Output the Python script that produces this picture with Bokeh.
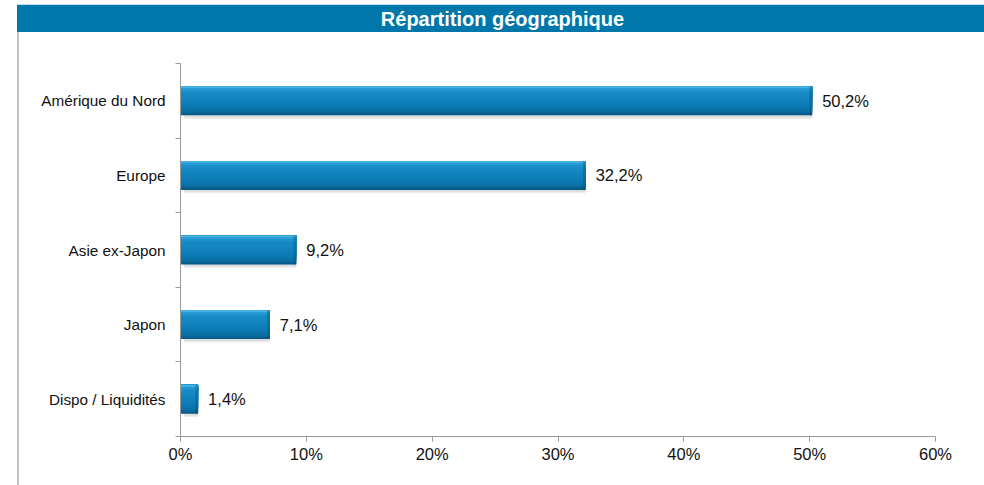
from bokeh.plotting import figure
from bokeh.models import ColumnDataSource, Range1d, FixedTicker, Div
from bokeh.layouts import column, row
from bokeh.transform import dodge
from bokeh.core.properties import value
from bokeh.embed import file_html
from bokeh.resources import INLINE

# ---- data ----
title_text = "Répartition géographique"
categories = ["Amérique du Nord", "Europe", "Asie ex-Japon", "Japon", "Dispo / Liquidités"]
values = [50.2, 32.2, 9.2, 7.1, 1.4]
value_labels = ["50,2%", "32,2%", "9,2%", "7,1%", "1,4%"]
x_ticks = [0, 10, 20, 30, 40, 50, 60]
x_tick_labels = ["0%", "10%", "20%", "30%", "40%", "50%", "60%"]

n = len(categories)
ypos = [n - i - 0.5 for i in range(n)]
source = ColumnDataSource(dict(
    cat=categories,
    y=ypos,
    v=values,
    lab=value_labels,
    vstart=[max(v - 0.22, 0) for v in values],
))

FONT = "Liberation Sans"

p = figure(width=965, height=453, output_backend="svg", toolbar_location=None,
           x_range=Range1d(0, 60), y_range=Range1d(0, n),
           min_border_left=161, min_border_right=49,
           min_border_top=31, min_border_bottom=49)
p.outline_line_color = None
p.xgrid.grid_line_color = None
p.ygrid.grid_line_color = None
p.background_fill_color = "white"
p.border_fill_color = "white"

BH = 0.389

# soft shadow below the bars
p.hbar(y=dodge("y", -0.045, range=p.y_range), left=0.3, right="v", height=BH,
       source=source, fill_color="#9a9a9a", fill_alpha=0.2, line_color=None)
p.hbar(y=dodge("y", -0.025, range=p.y_range), left=0.3, right="v", height=BH,
       source=source, fill_color="#9a9a9a", fill_alpha=0.2, line_color=None)

# smooth vertical gradient (style only): interpolate between colour stops
stops = [(0.00, (0x62, 0xc6, 0xee)), (0.06, (0x2c, 0xa2, 0xd8)),
         (0.20, (0x18, 0x8b, 0xc6)), (0.60, (0x0e, 0x7e, 0xb9)),
         (0.85, (0x0a, 0x70, 0xa6)), (1.00, (0x06, 0x55, 0x80))]


def colour_at(t):
    for (t0, c0), (t1, c1) in zip(stops[:-1], stops[1:]):
        if t0 <= t <= t1:
            f = (t - t0) / (t1 - t0) if t1 > t0 else 0
            r, g, b = (round(c0[k] + (c1[k] - c0[k]) * f) for k in range(3))
            return "#%02x%02x%02x" % (r, g, b)
    return "#%02x%02x%02x" % stops[-1][1]


# nested layers anchored at the bar's top edge, largest (darkest) first,
# so each edge blends into the layer underneath (no seams)
NB = 16
for k in reversed(range(NB)):
    a, b = k / NB, (k + 1) / NB
    h = b * BH
    off = BH / 2 - h / 2
    p.hbar(y=dodge("y", off, range=p.y_range), left=0, right="v", height=h,
           source=source, fill_color=colour_at((a + b) / 2), line_color=None)

# darker right end bevel
p.hbar(y="y", left="vstart", right="v", height=BH, source=source,
       fill_color="#064a70", fill_alpha=0.35, line_color=None)

# value labels
p.text(x="v", y="y", text="lab", source=source, x_offset=10,
       text_baseline="middle", text_align="left",
       text_font=value(FONT), text_font_size="16.5px", text_color="#111111")

# x axis
xa = p.xaxis[0]
xa.ticker = FixedTicker(ticks=x_ticks)
xa.major_label_overrides = {t: l for t, l in zip(x_ticks, x_tick_labels)}
xa.axis_line_color = "#999999"
xa.major_tick_line_color = "#999999"
xa.major_tick_in = 0
xa.major_tick_out = 5
xa.minor_tick_line_color = None
xa.major_label_standoff = 3
xa.major_label_text_font = FONT
xa.major_label_text_font_size = "16.5px"
xa.major_label_text_color = "#111111"

# y axis: labels at category centres, ticks at boundaries
ya = p.yaxis[0]
ya.ticker = FixedTicker(ticks=ypos, minor_ticks=list(range(n + 1)))
ya.major_label_overrides = {y: c for y, c in zip(ypos, categories)}
ya.axis_line_color = "#999999"
ya.major_tick_line_color = None
ya.major_tick_in = 0
ya.major_tick_out = 0
ya.minor_tick_line_color = "#999999"
ya.minor_tick_in = 0
ya.minor_tick_out = 5
ya.major_label_standoff = 10
ya.major_label_text_font = FONT
ya.major_label_text_font_size = "15.3px"
ya.major_label_text_color = "#111111"

title_div = Div(text=title_text, width=967, height=28, margin=(4, 0, 0, 17),
                styles={"background-color": "#0077aa", "color": "white",
                        "font-weight": "bold", "font-family": FONT,
                        "font-size": "20px", "text-align": "center",
                        "line-height": "28px", "padding-left": "4px",
                        "box-sizing": "border-box",
                        "border-top": "1px solid #c9dcea"})
line_div = Div(text="", width=2, height=453, margin=(0, 0, 0, 17),
               styles={"background-color": "#c4c4c4"})

layout = column(title_div, row(line_div, p, spacing=0), spacing=0)

open("out.html", "w").write(file_html(layout, INLINE))
